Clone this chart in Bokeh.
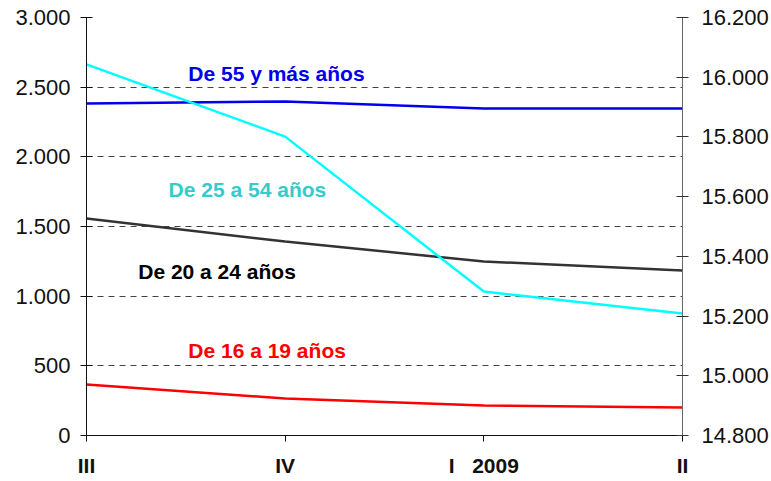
from bokeh.plotting import figure
from bokeh.models import Range1d, LinearAxis, FixedTicker, Label
from bokeh.embed import file_html
from bokeh.resources import INLINE

# ---- data ----
quarters = ["III", "IV", "I\u00a0\u00a0\u00a02009", "II"]
age_16_19 = [366, 266, 215, 201]
age_20_24 = [1557, 1392, 1249, 1184]
age_55_plus = [2383, 2397, 2347, 2347]
age_25_54 = [16043, 15801, 15282, 15209]   # right axis

left_ticks = [0, 500, 1000, 1500, 2000, 2500, 3000]
left_labels = ["0", "500", "1.000", "1.500", "2.000", "2.500", "3.000"]
right_ticks = [14800, 15000, 15200, 15400, 15600, 15800, 16000, 16200]
right_labels = ["14.800", "15.000", "15.200", "15.400", "15.600", "15.800", "16.000", "16.200"]

xs = list(range(len(quarters)))

FONT = "Liberation Sans"

p = figure(frame_width=596, frame_height=418, output_backend="svg", toolbar_location=None,
           x_range=Range1d(0, len(quarters) - 1), y_range=Range1d(0, 3000),
           min_border_left=86, min_border_right=80, min_border_top=17, min_border_bottom=30)
p.outline_line_color = None
p.background_fill_color = "white"
p.border_fill_color = "white"
p.extra_y_ranges = {"right": Range1d(14800, 16200)}

# x axis
p.xaxis.ticker = FixedTicker(ticks=xs)
p.xaxis.major_label_overrides = {i: q for i, q in enumerate(quarters)}
p.xaxis.major_label_text_font = FONT
p.xaxis.major_label_text_font_style = "bold"
p.xaxis.major_label_text_font_size = "21px"
p.xaxis.major_label_text_color = "#111111"
p.xaxis.major_label_standoff = 12
p.xaxis.major_tick_in = 0
p.xaxis.major_tick_out = 6
p.xaxis.minor_tick_line_color = None
p.xaxis.axis_line_color = "#111111"
p.xaxis.major_tick_line_color = "#111111"

# left axis
p.yaxis.ticker = FixedTicker(ticks=left_ticks)
p.yaxis.major_label_overrides = {t: l for t, l in zip(left_ticks, left_labels)}
p.yaxis.major_label_text_font = FONT
p.yaxis.major_label_text_font_size = "22px"
p.yaxis.major_label_text_color = "#111111"
p.yaxis.major_label_standoff = 10
p.yaxis.major_tick_in = 6
p.yaxis.major_tick_out = 6
p.yaxis.minor_tick_line_color = None
p.yaxis.axis_line_color = "#111111"
p.yaxis.major_tick_line_color = "#111111"

# right axis
ra = LinearAxis(y_range_name="right", ticker=FixedTicker(ticks=right_ticks))
ra.major_label_overrides = {t: l for t, l in zip(right_ticks, right_labels)}
ra.major_label_text_font = FONT
ra.major_label_text_font_size = "22px"
ra.major_label_text_color = "#111111"
ra.major_label_standoff = 13
ra.major_tick_in = 6
ra.major_tick_out = 6
ra.minor_tick_line_color = None
ra.axis_line_color = "#666666"
ra.major_tick_line_color = "#333333"
p.add_layout(ra, "right")

# grid
p.xgrid.grid_line_color = None
p.ygrid.ticker = FixedTicker(ticks=left_ticks)
p.ygrid.grid_line_color = "#444444"
p.ygrid.grid_line_dash = "6 5"
p.ygrid.grid_line_width = 1

# lines
p.line(xs, age_16_19, line_color="#FF0000", line_width=2.5)
p.line(xs, age_20_24, line_color="#333333", line_width=2.5)
p.line(xs, age_55_plus, line_color="#0000EE", line_width=2.5)
p.line(xs, age_25_54, line_color="#00FFFF", line_width=2.5, y_range_name="right")

# labels
def lab(x, y, text, color):
    p.add_layout(Label(x=x, y=y, text=text, text_color=color, text_font=FONT,
                       text_font_style="bold", text_font_size="21px",
                       text_align="center", text_baseline="middle"))

lab(0.956, 2598, "De 55 y más años", "#0000EE")
lab(0.81, 1765, "De 25 a 54 años", "#33CCCC")
lab(0.657, 1177, "De 20 a 24 años", "#000000")
lab(0.909, 610, "De 16 a 19 años", "#FF0000")

open("out.html", "w").write(file_html(p, INLINE))
